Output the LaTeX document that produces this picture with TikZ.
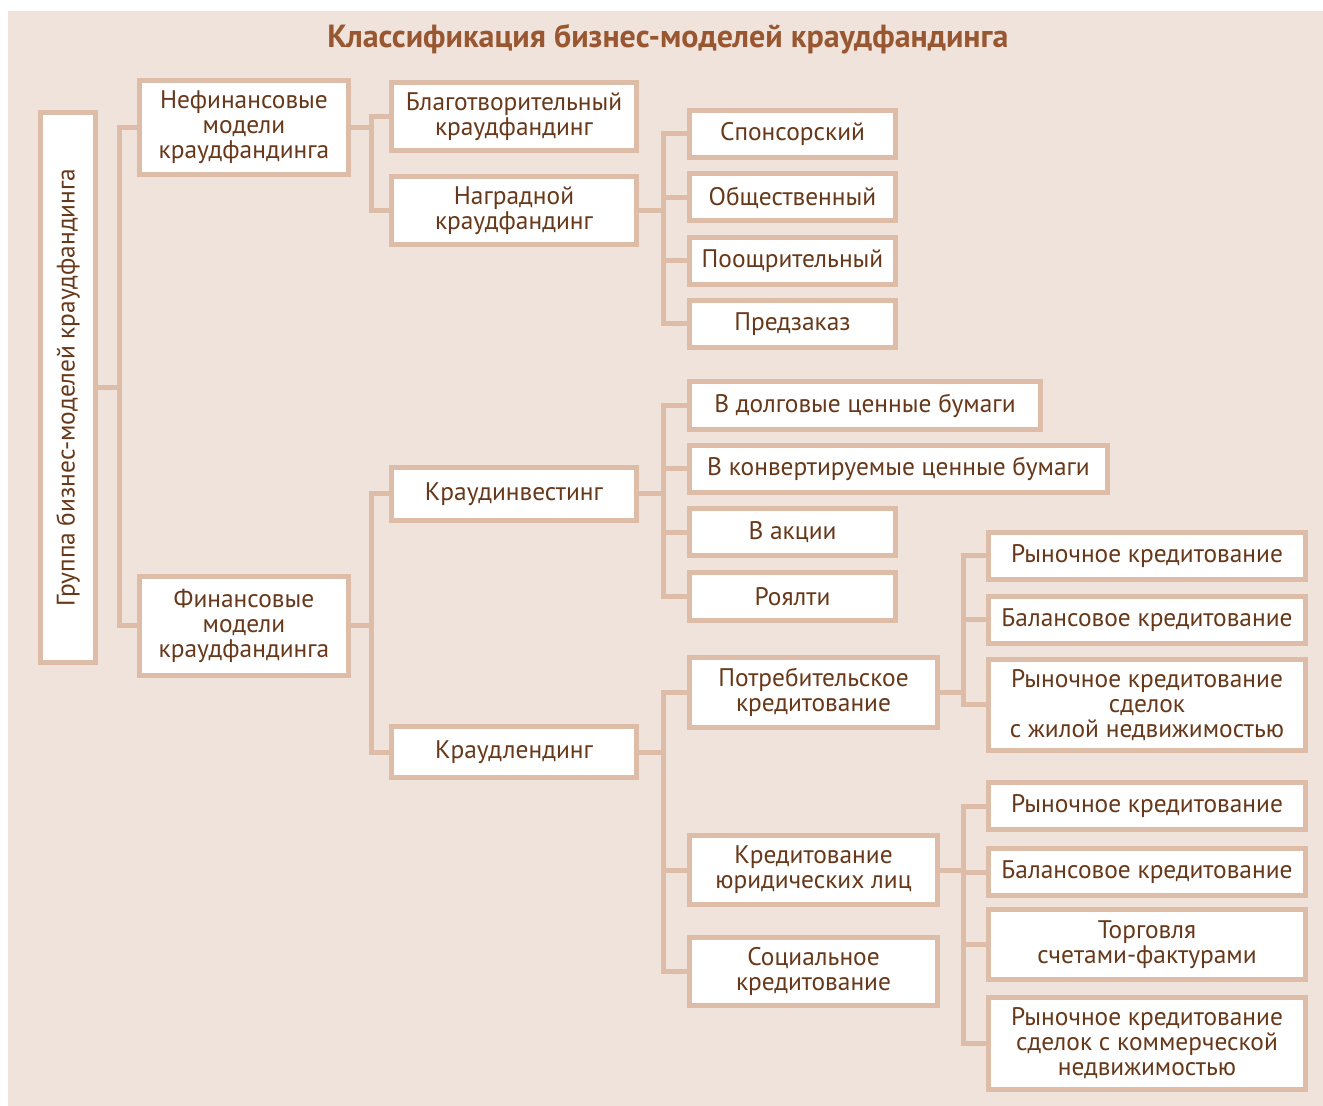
\documentclass[tikz,border=0pt]{standalone}
\usepackage{fontspec}
\setmainfont{PT Sans}
\usetikzlibrary{positioning}

\definecolor{panelbg}{HTML}{EFE3DC}
\definecolor{frametan}{HTML}{DDBDA7}
\definecolor{inkbrown}{HTML}{673819}
\definecolor{titlebrown}{HTML}{985730}

\tikzset{
  sz/.style 2 args={minimum width={(#1-5)*0.5pt}, minimum height={(#2-5)*0.5pt}},
  box/.style={draw=frametan, fill=white, line width=2.5pt, inner sep=0pt,
    align=center, text=inkbrown, font=\fontsize{12.7}{12.5}\selectfont},
  link/.style={draw=frametan, line width=2.5pt}
}

\begin{document}
\begin{tikzpicture}[x=0.5pt,y=-0.5pt]
  \useasboundingbox (0,0) rectangle (1323,1106);
  \fill[panelbg] (8,11) rectangle (1323,1106);

  \node[text=titlebrown, font=\bfseries\fontsize{16}{18}\selectfont] (title) at (668,39)
    {Классификация бизнес-моделей краудфандинга};

  % level 0 and 1
  \node[box, sz={60}{555}] (root) at (68,387.5)
    {\rotatebox{90}{Группа бизнес-моделей краудфандинга}};
  \node[box, sz={214}{99}] (nonfin) at (244,127.5) {Нефинансовые\\модели\\краудфандинга};
  \node[box, sz={214}{104}] (fin) at (244,626) {Финансовые\\модели\\краудфандинга};

  % level 2
  \node[box, sz={250}{73}] (charity) at (514,116.5) {Благотворительный\\краудфандинг};
  \node[box, sz={250}{73}] (reward) at (514,210.5) {Наградной\\краудфандинг};
  \node[box, sz={250}{58}] (invest) at (514,494) {Краудинвестинг};
  \node[box, sz={250}{56}] (lend) at (514,752) {Краудлендинг};

  % level 3
  \node[box, sz={211}{52}] (sponsor) at (792.5,134) {Спонсорский};
  \node[box, sz={211}{52}] (public) at (792.5,197.5) {Общественный};
  \node[box, sz={211}{52}] (incent) at (792.5,261) {Поощрительный};
  \node[box, sz={211}{52}] (preorder) at (792.5,324) {Предзаказ};

  \node[box, sz={356}{53}] (debt) at (865,405.5) {В долговые ценные бумаги};
  \node[box, sz={423}{52}] (conv) at (898.5,469) {В конвертируемые ценные бумаги};
  \node[box, sz={211}{52}] (shares) at (792.5,532.5) {В акции};
  \node[box, sz={211}{53}] (royalty) at (792.5,596.5) {Роялти};

  \node[box, sz={253}{75}] (consumer) at (813.5,692.5) {Потребительское\\кредитование};
  \node[box, sz={253}{74}] (legal) at (813.5,870) {Кредитование\\юридических лиц};
  \node[box, sz={253}{73}] (social) at (813.5,971.5) {Социальное\\кредитование};

  % level 4
  \node[box, sz={322}{52}] (mkt1) at (1147,556) {Рыночное кредитование};
  \node[box, sz={322}{52}] (bal1) at (1147,620) {Балансовое кредитование};
  \node[box, sz={322}{96}] (mktres) at (1147,705) {Рыночное кредитование\\сделок\\с жилой недвижимостью};
  \node[box, sz={322}{52}] (mkt2) at (1147,806) {Рыночное кредитование};
  \node[box, sz={322}{52}] (bal2) at (1147,872) {Балансовое кредитование};
  \node[box, sz={322}{75}] (invoice) at (1147,944.5) {Торговля\\счетами-фактурами};
  \node[box, sz={322}{97}] (mktcom) at (1147,1043.5) {Рыночное кредитование\\сделок с коммерческой\\недвижимостью};

  % connectors
  \foreach \c in {nonfin,fin}
    \draw[link] (root.east) -- ++(21,0) |- (\c.west);
  \foreach \c in {charity,reward}
    \draw[link] (nonfin.east) -- ++(20,0) |- (\c.west);
  \foreach \c in {invest,lend}
    \draw[link] (fin.east) -- ++(20,0) |- (\c.west);
  \foreach \c in {sponsor,public,incent,preorder}
    \draw[link] (reward.east) -- ++(24,0) |- (\c.west);
  \foreach \c in {debt,conv,shares,royalty}
    \draw[link] (invest.east) -- ++(24,0) |- (\c.west);
  \foreach \c in {consumer,legal,social}
    \draw[link] (lend.east) -- ++(24,0) |- (\c.west);
  \foreach \c in {mkt1,bal1,mktres}
    \draw[link] (consumer.east) -- ++(23,0) |- (\c.west);
  \foreach \c in {mkt2,bal2,invoice,mktcom}
    \draw[link] (legal.east) -- ++(23,0) |- (\c.west);
\end{tikzpicture}
\end{document}
